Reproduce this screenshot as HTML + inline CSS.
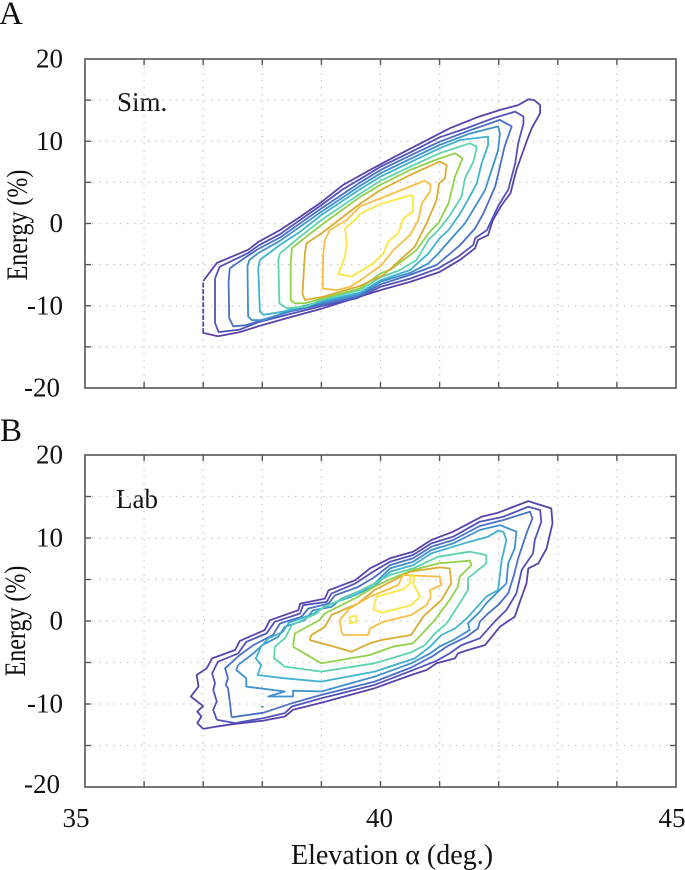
<!DOCTYPE html>
<html lang="en">
<head>
<meta charset="utf-8">
<title>Energy vs elevation contours</title>
<style>
html,body{margin:0;padding:0;background:#fff;}
svg{display:block;font-family:"Liberation Serif",serif;fill:#111;}
</style>
</head>
<body>
<svg id="chart" xmlns="http://www.w3.org/2000/svg" width="685" height="870" viewBox="0 0 685 870">
  <rect x="0" y="0" width="685" height="870" fill="#fff"/>
  <text x="-1" y="24" font-size="33">A</text>
  <text x="0" y="441" font-size="33">B</text>
  <text x="117" y="111" font-size="27">Sim.</text>
  <text x="116" y="508" font-size="27">Lab</text>
  <text transform="translate(27,225) rotate(-90) scale(0.8,1)" text-anchor="middle" font-size="30">Energy (%)</text>
  <text transform="translate(25,621) rotate(-90) scale(0.8,1)" text-anchor="middle" font-size="30">Energy (%)</text>
  <text x="392" y="864" text-anchor="middle" font-size="28">Elevation α (deg.)</text>
  <g id="layer"></g>
</svg>
<script>
const elevationTicks = [35,36,37,38,39,40,41,42,43,44,45];
const energyTicks = [20,15,10,5,0,-5,-10,-15,-20];
const elevationLabels = ["35","40","45"];
const energyLabels = ["20","10","0","-10","-20"];
const levelColors = ["#5a42ac","#5252b8","#4a70c6","#3f90cd","#3fb2cf","#5cd3b0","#92d14a","#d9ac32","#f8be45","#fbe53e"];

const simContour1 = [[37,-7],[37,-13.3],[37.25,-13.7],[37.62,-13.2],[37.93,-12.5],[38.47,-11.4],[39.03,-10.3],[39.65,-8.9],[40,-8.1],[40.5,-7.1],[41,-5.9],[41.35,-4.4],[41.6,-3],[41.65,-2],[41.82,-1.4],[41.9,0.4],[42.05,2.25],[42.2,3.7],[42.3,6.5],[42.48,10.15],[42.56,11.6],[42.7,13.4],[42.7,14.4],[42.6,15],[42.5,15.1],[42.33,14.4],[42.02,13.8],[41.63,12.9],[41.18,11.6],[40.72,9.9],[40.21,8],[39.82,6.5],[39.37,4.7],[39,2.6],[38.64,0.8],[38.3,-0.8],[37.93,-2.25],[37.76,-3.2],[37.23,-4.8],[37,-7]];
const simContour2 = [[37.2,-6.7],[37.2,-12.1],[37.26,-13.2],[37.62,-12.9],[37.93,-12],[38.47,-11],[39.03,-10],[39.6,-9.1],[40,-7.7],[40.5,-6.7],[40.98,-5.45],[41.32,-4],[41.57,-2.6],[41.6,-1.8],[41.8,-0.8],[42,2.25],[42.16,4.1],[42.28,7.3],[42.33,9.75],[42.42,12.2],[42.42,13],[42.28,13.6],[41.91,12.8],[41.46,11.6],[41,10.48],[40.5,8.65],[40,6.9],[39.65,5.37],[39.37,4.2],[39,2.25],[38.64,0.43],[38.3,-1.3],[37.93,-2.7],[37.76,-3.6],[37.28,-5.25],[37.2,-6.7]];
const simContour3 = [[37.45,-5.45],[37.43,-7.1],[37.44,-11.5],[37.51,-12.5],[37.73,-12.35],[37.99,-11.75],[38.47,-10.7],[39.03,-9.8],[39.6,-8.9],[40,-7.4],[40.5,-6.25],[40.95,-5.05],[41.18,-3.65],[41.35,-2.6],[41.6,-0.6],[41.74,1.2],[41.94,4.5],[42.02,6.9],[42.1,9.35],[42.22,11.8],[42.02,12.6],[41.5,11.3],[41,9.95],[40.5,8.25],[40,6.5],[39.65,4.96],[39,1.84],[38.64,0.02],[38.3,-1.7],[37.93,-3.1],[37.7,-4.2],[37.45,-5.45]];
const simContour4 = [[37.78,-4.44],[37.75,-5.25],[37.76,-11.3],[37.82,-11.75],[38.02,-11.75],[38.47,-10.6],[39.03,-9.6],[39.65,-8.6],[40,-7.07],[40.5,-6],[40.81,-4.85],[40.98,-3.63],[41.18,-2],[41.43,0.02],[41.6,2.05],[41.77,4.07],[41.88,6.5],[41.99,8.9],[42.02,10.96],[41.99,11.8],[41.5,10.9],[41,9.54],[40.5,7.84],[40,6.1],[39.65,4.56],[39,1.44],[38.64,-0.39],[38.3,-2.1],[37.93,-3.6],[37.78,-4.44]];
const simContour5 = [[37.96,-4.44],[37.93,-5.45],[37.96,-10.7],[38.02,-11.1],[38.36,-10.7],[39.03,-9.4],[39.65,-8.4],[40,-6.9],[40.5,-5.65],[40.81,-3.63],[41,-1.8],[41.15,-0.8],[41.35,1.24],[41.51,3.26],[41.63,4.9],[41.71,7.3],[41.82,9.54],[41.82,10.56],[41.35,10.15],[41,9.14],[40.5,7.44],[40,5.7],[39.65,4.15],[39,1.03],[38.64,-1],[38.3,-2.6],[37.96,-4.44]];
const simContour6 = [[38.3,-3.63],[38.27,-4.44],[38.29,-9.7],[38.41,-10.3],[38.75,-10.1],[39.03,-9.2],[39.65,-8.1],[40,-6.55],[40.33,-5.65],[40.61,-4.44],[40.81,-2],[40.98,-0.8],[41.18,1.03],[41.37,3.26],[41.43,5.5],[41.57,7.5],[41.63,9.34],[41.51,9.75],[41,8.53],[40.5,6.91],[40,5.2],[39.65,3.6],[39,0.43],[38.64,-1.6],[38.3,-3.63]];
const simContour7 = [[38.5,-3.02],[38.48,-4.84],[38.48,-9.3],[38.55,-9.7],[38.72,-9.7],[39.03,-9.1],[39.65,-7.9],[40,-6.06],[40.16,-5.65],[40.39,-4.44],[40.61,-3.22],[40.81,-1.2],[40.98,0.02],[41.15,2.45],[41.26,5.7],[41.39,7.92],[41.26,8.53],[41,7.92],[40.5,6.5],[40,4.7],[39.65,3.2],[39,-0.18],[38.64,-2.2],[38.5,-3.02]];
const simContour8 = [[38.75,-2.4],[38.72,-3.63],[38.68,-8.5],[38.72,-9.3],[39.03,-8.9],[39.65,-7.6],[40.05,-6.26],[40.27,-4.84],[40.58,-2.82],[40.78,0.02],[40.95,2.86],[40.99,4.88],[41.09,5.5],[41.12,7.1],[41,7.52],[40.5,5.9],[40,4.07],[39.65,2.37],[39,-1.2],[38.75,-2.4]];
const simContour9 = [[39.06,-2],[39.03,-3.63],[39.02,-7.9],[39.26,-8.1],[39.48,-7.7],[39.65,-6.95],[40.02,-5.05],[40.22,-3.22],[40.5,-1.4],[40.64,0.43],[40.7,2.45],[40.84,3.87],[40.85,4.68],[40.75,5.2],[40.5,4.5],[40,3.06],[39.65,2.05],[39.43,0.43],[39.14,-0.8],[39.06,-2]];
const simContour10 = [[39.4,-0.6],[39.43,-2.4],[39.4,-4.03],[39.29,-6.14],[39.51,-6.46],[39.65,-5.85],[39.88,-4.84],[40.05,-3.63],[40.13,-2.2],[40.3,-1.2],[40.39,0.63],[40.55,1.44],[40.55,3.06],[40.53,3.46],[40,2.37],[39.65,1.15],[39.6,0.63],[39.4,-0.6]];

const labContour1 = [[37,-13],[36.9,-12.3],[36.97,-11.5],[36.9,-10.9],[37,-10.25],[36.79,-9.1],[36.92,-7.9],[36.89,-6.5],[37.06,-5.7],[37.15,-4.5],[37.54,-3.5],[37.62,-2.4],[38.04,-1.1],[38.13,0.1],[38.61,1.3],[38.64,2.1],[39.06,2.7],[39.12,3.7],[39.57,4.9],[39.82,6.34],[40.16,7.55],[40.55,8.35],[40.86,9.76],[41.23,10.76],[41.71,12.57],[41.99,13.05],[42.5,14.45],[42.89,13.57],[42.91,11.76],[42.81,8.75],[42.67,6.94],[42.5,6.34],[42.47,4.53],[42.39,2.93],[42.27,0.52],[42.02,-0.69],[41.77,-2.9],[41.48,-3.5],[41.31,-3.9],[41.26,-4.5],[40.95,-5.1],[40.78,-5.9],[40.52,-6.5],[39.9,-8.1],[39,-9.85],[38.52,-10.7],[38.38,-11.5],[38.02,-12],[37.48,-12.45],[37.2,-12.75],[37,-13]];
const labContour2 = [[37.23,-11.9],[37.17,-10.7],[37.23,-9.7],[37.17,-8.3],[37.2,-7.5],[37.15,-6.3],[37.25,-4.9],[37.59,-3.9],[37.73,-2.5],[38.07,-1.5],[38.21,-0.1],[38.64,0.9],[38.69,1.9],[39.09,2.3],[39.17,3.3],[39.57,4.5],[39.82,5.7],[40.16,7.15],[40.55,7.95],[40.86,9.35],[41.23,10.16],[41.68,11.96],[42.08,12.57],[42.5,13.77],[42.7,13.37],[42.72,11.96],[42.61,9.76],[42.58,8.15],[42.39,6.14],[42.3,3.33],[42.13,1.32],[41.93,-0.08],[41.68,-2.09],[41.37,-2.9],[41.17,-3.9],[40.95,-4.8],[40.52,-6],[39.9,-7.7],[39,-9.3],[38.5,-10.3],[38.38,-11.1],[38.02,-11.7],[37.54,-12.3],[37.23,-11.9]];
const labContour3 = [[37.48,-11.6],[37.45,-9.7],[37.42,-8.1],[37.38,-7.7],[37.42,-6.9],[37.37,-5.7],[37.62,-4.1],[37.85,-2.9],[38.18,-1.7],[38.3,-0.3],[38.66,0.5],[38.78,1.5],[39.12,2.1],[39.23,3.1],[39.62,4.1],[39.9,5.3],[40.16,6.74],[40.55,7.55],[40.86,8.95],[41.23,9.76],[41.68,11.44],[42.08,12.17],[42.53,13.17],[42.57,12.37],[42.47,10.56],[42.33,7.55],[42.25,5.34],[42.16,3.33],[41.99,1.92],[41.82,0.92],[41.68,-0.08],[41.65,-0.89],[41.46,-1.89],[41.12,-3.09],[40.89,-4.2],[40.52,-5.6],[39.9,-7.3],[39,-8.9],[38.5,-9.9],[38.02,-11.05],[37.48,-11.6]];
const labContour4 = [[37.59,-5.3],[37.56,-5.9],[37.73,-6.9],[37.73,-7.9],[38.38,-8.5],[38.1,-9.1],[38.52,-9.1],[38.52,-8.4],[39,-8.5],[39.9,-6.7],[40.52,-5.1],[40.84,-3.9],[41,-3.09],[41.23,-2.29],[41.51,-1.09],[41.48,-0.28],[41.68,1.12],[41.79,2.13],[42.13,4.53],[42.16,6.94],[42.27,8.75],[42.3,10.76],[42.02,11.56],[41.68,10.96],[41.23,9.35],[40.86,8.55],[40.55,7.15],[40.16,6.34],[39.9,4.5],[39.68,3.7],[39.34,2.7],[39.17,1.7],[38.86,1.3],[38.72,0.1],[38.38,-0.7],[38.27,-1.9],[38,-2.9],[37.85,-3.9],[37.59,-5.3]];
const labContour4b = [[38,-10.25],[38.02,-10.3],[38,-10.4],[37.98,-10.3],[38,-10.25]];
const labContour5 = [[37.98,-3.1],[37.89,-4.5],[37.98,-5.3],[37.92,-6.5],[38.38,-6.9],[39,-7.3],[39.9,-6.1],[40.58,-4.5],[40.84,-3.1],[41.03,-1.69],[41.26,-0.9],[41.46,0.32],[41.79,2.93],[41.99,3.73],[42.05,7.35],[42.13,9.76],[42.08,10.76],[41.99,10.88],[41.82,10.16],[41.51,9.56],[41.23,8.95],[40.86,8.15],[40.55,6.74],[40.16,5.94],[39.9,4.2],[39.5,2.9],[39.06,1.8],[38.88,0.9],[38.45,-0.2],[38.35,-1.3],[38.1,-2.1],[37.98,-3.1]];
const labContour6 = [[38.2,-4.5],[38.21,-3.1],[38.38,-2.1],[38.5,-0.5],[38.92,0.92],[39,1.52],[39.51,3.13],[39.9,4.53],[40.16,5.54],[40.55,6.34],[40.98,7.75],[41.51,8.35],[41.79,7.95],[41.79,6.94],[41.48,5.14],[41.48,3.73],[41.34,2.13],[41.12,-0.28],[40.92,-1.49],[40.75,-2.9],[40.52,-3.78],[39.9,-5.1],[39,-6.1],[38.38,-5.5],[38.2,-4.5]];
const labContour7 = [[38.52,-3.1],[38.55,-1.5],[38.97,0.12],[39.06,0.92],[39.57,2.73],[39.9,4.13],[40.16,5.02],[40.55,6.14],[40.98,6.94],[41.51,7.27],[41.54,6.74],[41.34,5.34],[41.31,4.13],[41.17,2.53],[40.92,0.12],[40.55,-2.7],[40.21,-3.1],[39.82,-4.1],[39,-5.1],[38.52,-3.1]];
const labContour8 = [[38.8,-2.3],[38.83,-1.7],[39.06,-0.7],[39.17,0.72],[39.62,2.12],[39.9,3.73],[40.5,5.94],[41,6.46],[41.17,6.34],[41.2,4.53],[41.03,2.53],[40.72,0.52],[40.52,-1.69],[40.02,-2.29],[39.82,-2.69],[39.51,-3.7],[39.17,-3],[38.8,-2.3]];
const labContour9 = [[39.31,0.12],[39.34,-1.29],[39.37,-1.69],[39.79,-1.69],[39.82,-0.89],[40.05,-0.08],[40.52,0.72],[40.78,1.92],[40.85,2.93],[40.84,3.73],[41.03,4.33],[41,5.34],[40.38,5.54],[40.3,4.33],[39.82,2.93],[39.48,1.52],[39.31,0.12]];
const labContour10 = [[40.5,5.42],[40.58,5.42],[40.55,4.53],[40.67,2.93],[40.52,1.92],[40.02,1],[39.88,1.4],[39.93,2.93],[40.38,3.81],[40.5,4.53],[40.5,5.42]];
const labContour10b = [[39.48,0.52],[39.48,-0.29],[39.6,-0.09],[39.58,0.64],[39.48,0.52]];

const simLevels = [simContour1,simContour2,simContour3,simContour4,simContour5,simContour6,simContour7,simContour8,simContour9,simContour10];
const labLevels = [labContour1,labContour2,labContour3,labContour4,labContour5,labContour6,labContour7,labContour8,labContour9,labContour10];

const NS = "http://www.w3.org/2000/svg";
const layer = document.getElementById("layer");
const xLeft = 85, xRight = 676;
const xScale = v => xLeft + (v - 35) * (xRight - xLeft) / 10;

function make(parent, tag, attrs) {
  const el = document.createElementNS(NS, tag);
  for (const k in attrs) el.setAttribute(k, attrs[k]);
  parent.appendChild(el);
  return el;
}

function drawPanel(key, top, bottom, levels, extras, showX) {
  const yScale = v => top + (20 - v) * (bottom - top) / 40;
  const g = make(layer, "g", {});
  
  

  elevationTicks.slice(1, -1).forEach(t => {
    const gl = make(g, "line", {x1:xScale(t), x2:xScale(t), y1:top, y2:bottom, stroke:"#c9c9c9", "stroke-width":1.2, "stroke-dasharray":"1.5 5.5"});
    
    
  });
  energyTicks.slice(1, -1).forEach(t => {
    const gl = make(g, "line", {x1:xLeft, x2:xRight, y1:yScale(t), y2:yScale(t), stroke:"#c9c9c9", "stroke-width":1.2, "stroke-dasharray":"1.5 5.5"});
    
    
  });

  levels.forEach((pts, i) => {
    const line = make(g, "polyline", {points:pts.map(p => xScale(p[0]).toFixed(1) + "," + yScale(p[1]).toFixed(1)).join(" "), fill:"none", stroke:levelColors[i], "stroke-width":1.8, "stroke-linejoin":"round"});
    
    
  });
  extras.forEach(ex => {
    const line = make(g, "polyline", {points:ex.pts.map(p => xScale(p[0]).toFixed(1) + "," + yScale(p[1]).toFixed(1)).join(" "), fill:"none", stroke:levelColors[ex.level], "stroke-width":ex.width, "stroke-linejoin":"round"});
    
    
  });

  const frame = make(g, "rect", {x:xLeft, y:top, width:xRight-xLeft, height:bottom-top, fill:"none", stroke:"#555", "stroke-width":1.6});
  
  

  elevationTicks.slice(1, -1).forEach(t => {
    const a = make(g, "line", {x1:xScale(t), x2:xScale(t), y1:top, y2:top+6, stroke:"#555", "stroke-width":1.4});
    
    
    const b = make(g, "line", {x1:xScale(t), x2:xScale(t), y1:bottom, y2:bottom-6, stroke:"#555", "stroke-width":1.4});
    
    
  });
  energyTicks.slice(1, -1).forEach(t => {
    const a = make(g, "line", {x1:xLeft, x2:xLeft+6, y1:yScale(t), y2:yScale(t), stroke:"#555", "stroke-width":1.4});
    
    
    const b = make(g, "line", {x1:xRight, x2:xRight-6, y1:yScale(t), y2:yScale(t), stroke:"#555", "stroke-width":1.4});
    
    
  });

  energyLabels.forEach(s => {
    const v = Number(s);
    const lab = make(g, "text", {x:(v === -20 ? 60 : 63), y:yScale(v)+(v === -20 && showX ? 6 : 8.5), "text-anchor":"end", "font-size":27});
    
    
    lab.textContent = s;
  });
  if (showX) {
    const labelNudge = {"35":-9, "40":-1, "45":-4};
    elevationLabels.forEach(s => {
      const lab = make(g, "text", {x:xScale(Number(s))+labelNudge[s], y:bottom+40, "text-anchor":"middle", "font-size":27});
      
      
      lab.textContent = s;
    });
  }
}

drawPanel("panel-a", 59, 388, simLevels, [], false);
drawPanel("panel-b", 455, 787, labLevels, [{pts:labContour4b, level:3, width:0.8},{pts:labContour10b, level:9, width:1.8}], true);

const yA = v => 59 + (20 - v) * 329 / 40;
const dash = make(layer, "line", {x1:xScale(37), x2:xScale(37), y1:yA(-7), y2:yA(-13.3), stroke:"#fff", "stroke-width":2.4, "stroke-dasharray":"1.5 5"});


</script>
</body>
</html>
